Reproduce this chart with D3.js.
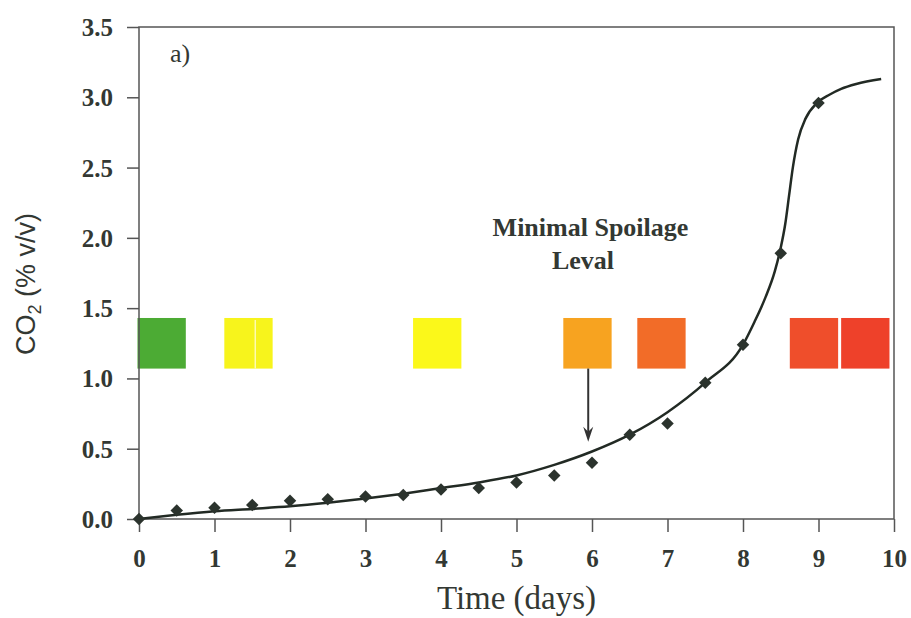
<!DOCTYPE html>
<html>
<head>
<meta charset="utf-8">
<script src="https://cdn.jsdelivr.net/npm/d3@7"></script>
<style>
  body { margin: 0; background: #fff; }
  svg { display: block; }
</style>
</head>
<body>
<div id="chart"></div>
<script>
// Measured CO2 (diamonds)
const pointDays = [0, 0.5, 1, 1.5, 2, 2.5, 3, 3.5, 4, 4.5, 5, 5.5, 6, 6.5, 7, 7.5, 8, 8.5, 9];
const pointCO2 = [0.00, 0.06, 0.08, 0.10, 0.13, 0.14, 0.16, 0.17, 0.21, 0.22, 0.26, 0.31, 0.40, 0.60, 0.68, 0.97, 1.24, 1.89, 2.96];

// Fitted curve
const curveDays = [0, 0.5, 1, 1.5, 2, 2.5, 3, 3.5, 4, 4.5, 5, 5.5, 6, 6.5, 7, 7.5, 8, 8.15, 8.3, 8.42, 8.5, 8.56, 8.61, 8.66, 8.73, 8.83, 8.98, 9.15, 9.3, 9.5, 9.83];
const curveCO2 = [0, 0.03, 0.055, 0.072, 0.09, 0.115, 0.145, 0.18, 0.22, 0.26, 0.31, 0.385, 0.48, 0.60, 0.76, 0.97, 1.24, 1.40, 1.58, 1.76, 1.93, 2.10, 2.30, 2.50, 2.70, 2.85, 2.96, 3.02, 3.06, 3.095, 3.13];

// Colour indicator patches (centre day) and their colours
const patchDays = [0.30, 1.45, 3.95, 5.94, 6.92, 8.94, 9.62];
const patchColors = ["#4cab34", "#f7f41c", "#fbf81a", "#f7a320", "#f26c28", "#ef4e2b", "#ee412a"];

const xTicks = [0, 1, 2, 3, 4, 5, 6, 7, 8, 9, 10];
const yTicks = [0, 0.5, 1, 1.5, 2, 2.5, 3, 3.5];

const margin = {top: 27, right: 17, bottom: 99, left: 139},
    width = 911 - margin.left - margin.right,
    height = 618 - margin.top - margin.bottom;

const ink = "#333833";

const svg = d3.select("#chart").append("svg")
    .attr("width", 911)
    .attr("height", 618)
  .append("g")
    .attr("transform", "translate(" + margin.left + "," + margin.top + ")");

const x = d3.scaleLinear().domain([0, 10]).range([0, width]);
const y = d3.scaleLinear().domain([0, 3.5]).range([height, 0]);

// Patches
const patchW = 0.64, patchLo = 1.07, patchHi = 1.43;
svg.selectAll(".patch")
    .data(patchDays)
  .enter().append("rect")
    .attr("class", "patch")
    .attr("x", d => x(d - patchW / 2))
    .attr("y", y(patchHi))
    .attr("width", x(patchW) - x(0))
    .attr("height", y(patchLo) - y(patchHi))
    .style("fill", (d, i) => patchColors[i]);

// faint seam in the second patch
svg.append("line")
    .attr("x1", x(1.54)).attr("x2", x(1.54))
    .attr("y1", y(patchHi) + 2).attr("y2", y(patchLo))
    .style("stroke", "#fdfbb0").style("stroke-width", 1.5);

// Frame
svg.append("rect")
    .attr("width", width)
    .attr("height", height)
    .style("fill", "none")
    .style("stroke", "#555")
    .style("stroke-width", 1.5);

// Axes
const xAxis = svg.append("g")
    .attr("transform", "translate(0," + height + ")")
    .call(d3.axisBottom(x).tickValues(xTicks).tickSize(13).tickSizeOuter(0).tickFormat(d3.format("d")));
xAxis.select(".domain").remove();
xAxis.selectAll("line").style("stroke", "#555").style("stroke-width", 1.5);
xAxis.selectAll("text")
    .attr("y", 48)
    .attr("dy", null)
    .style("font-family", "'Liberation Serif', 'Times New Roman', serif")
    .style("font-weight", "bold")
    .style("font-size", "25px")
    .style("fill", ink);

const yAxis = svg.append("g")
    .call(d3.axisLeft(y).tickValues(yTicks).tickSize(12).tickSizeOuter(0).tickFormat(d3.format(".1f")));
yAxis.select(".domain").remove();
yAxis.selectAll("line").style("stroke", "#555").style("stroke-width", 1.5);
yAxis.selectAll("text")
    .attr("x", -26)
    .attr("dy", "0.34em")
    .style("font-family", "'Liberation Serif', 'Times New Roman', serif")
    .style("font-weight", "bold")
    .style("font-size", "25px")
    .style("fill", ink);

// Axis titles
svg.append("text")
    .attr("x", width / 2)
    .attr("y", height + 90)
    .attr("text-anchor", "middle")
    .style("font-family", "'Liberation Serif', 'Times New Roman', serif")
    .style("font-size", "33px")
    .style("fill", ink)
    .text("Time (days)");

const yTitle = svg.append("text")
    .attr("transform", "translate(" + (35 - margin.left) + "," + (284 - margin.top) + ") rotate(-90)")
    .attr("text-anchor", "middle")
    .style("font-family", "'Liberation Sans', Arial, sans-serif")
    .style("font-size", "27px")
    .style("fill", ink);
yTitle.append("tspan").text("CO");
yTitle.append("tspan").attr("dy", 6).style("font-size", "18px").text("2");
yTitle.append("tspan").attr("dy", -6).text(" (% v/v)");

// Panel label
svg.append("text")
    .attr("x", 170 - margin.left)
    .attr("y", 62 - margin.top)
    .style("font-family", "'Liberation Serif', 'Times New Roman', serif")
    .style("font-size", "26px")
    .style("fill", ink)
    .text("a)");

// Fitted curve
const curve = curveDays.map((d, i) => [d, curveCO2[i]]);
svg.append("path")
    .datum(curve)
    .attr("d", d3.line().x(d => x(d[0])).y(d => y(d[1])).curve(d3.curveMonotoneX))
    .style("fill", "none")
    .style("stroke", "#222a24")
    .style("stroke-width", 2.5);

// Diamonds
svg.selectAll(".dot")
    .data(pointDays)
  .enter().append("path")
    .attr("class", "dot")
    .attr("d", d3.symbol().type(d3.symbolSquare).size(78))
    .attr("transform", (d, i) => "translate(" + x(d) + "," + y(pointCO2[i]) + ") rotate(45)")
    .style("fill", "#2b332d");

// Annotation
svg.append("text")
    .attr("x", x(5.98))
    .attr("y", y(2.01))
    .attr("text-anchor", "middle")
    .style("font-family", "'Liberation Serif', 'Times New Roman', serif")
    .style("font-weight", "bold")
    .style("font-size", "26px")
    .style("fill", ink)
    .text("Minimal Spoilage");
svg.append("text")
    .attr("x", x(5.88))
    .attr("y", y(1.78))
    .attr("text-anchor", "middle")
    .style("font-family", "'Liberation Serif', 'Times New Roman', serif")
    .style("font-weight", "bold")
    .style("font-size", "26px")
    .style("fill", ink)
    .text("Leval");

// Arrow to the 6-day reading
const arrowX = x(5.95), arrowTop = y(patchLo), arrowTip = y(0.55);
svg.append("line")
    .attr("x1", arrowX).attr("x2", arrowX)
    .attr("y1", arrowTop).attr("y2", arrowTip - 6)
    .style("stroke", "#333").style("stroke-width", 2);
svg.append("path")
    .attr("d", "M" + (arrowX - 5) + "," + (arrowTip - 15) +
               " L" + arrowX + "," + (arrowTip - 10) +
               " L" + (arrowX + 5) + "," + (arrowTip - 15) +
               " L" + arrowX + "," + arrowTip + " Z")
    .style("fill", "#333");
</script>
</body>
</html>
